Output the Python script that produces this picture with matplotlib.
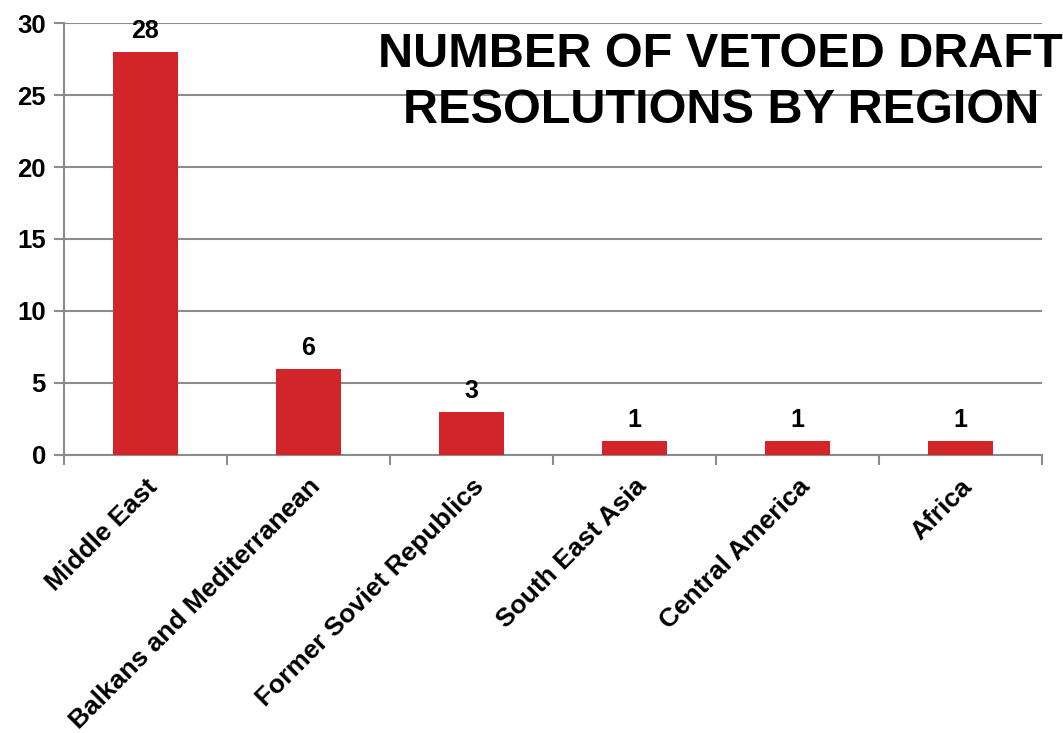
import matplotlib
matplotlib.use("Agg")
import matplotlib.pyplot as plt
import numpy as np

regions = ["Middle East", "Balkans and Mediterranean", "Former Soviet Republics",
           "South East Asia", "Central America", "Africa"]
vetoes = [28, 6, 3, 1, 1, 1]
yticks = [0, 5, 10, 15, 20, 25, 30]

plt.rcParams['font.family'] = ['Liberation Sans', 'DejaVu Sans']
plt.rcParams['font.weight'] = 'bold'

fig = plt.figure(figsize=(10.63, 7.33), dpi=100)
ax = fig.add_axes([0.0602, 0.3793, 0.9198, 0.5893])

x = np.arange(len(regions))
bars = ax.bar(x, vetoes, width=0.4, color="#D2252A", zorder=3)
for xi, v in zip(x, vetoes):
    ax.text(xi, v + 0.6, str(v), ha='center', va='bottom', fontsize=18, fontweight='bold')

ax.set_xlim(-0.5, len(regions) - 0.5)
ax.set_ylim(0, 30)
ax.set_yticks(yticks)
ax.set_yticklabels([str(t) for t in yticks], fontsize=18.5, fontweight='bold')
ax.yaxis.grid(True, color="#8c8c8c", linewidth=1.5, zorder=0)

# category labels at centers, ticks at boundaries
ax.set_xticks(x)
ax.set_xticklabels(regions, rotation=45, ha='right', rotation_mode='anchor',
                   fontsize=19, fontweight='bold')
ax.tick_params(axis='x', length=0, pad=14)
ax.set_xticks(np.arange(len(regions) + 1) - 0.5, minor=True)
ax.tick_params(axis='x', which='minor', length=7, width=1.5, color="#8c8c8c")
ax.tick_params(axis='y', length=7, width=1.5, color="#8c8c8c", pad=6)

for s in ['top', 'right']:
    ax.spines[s].set_visible(False)
for s in ['left', 'bottom']:
    ax.spines[s].set_color("#8c8c8c")
    ax.spines[s].set_linewidth(1.5)

fig.text(0.678, 0.956, "NUMBER OF VETOED DRAFT\nRESOLUTIONS BY REGION",
         ha='center', va='top', fontsize=35, fontweight='bold', linespacing=1.3)

fig.savefig("out.png", dpi=100, facecolor='white')
